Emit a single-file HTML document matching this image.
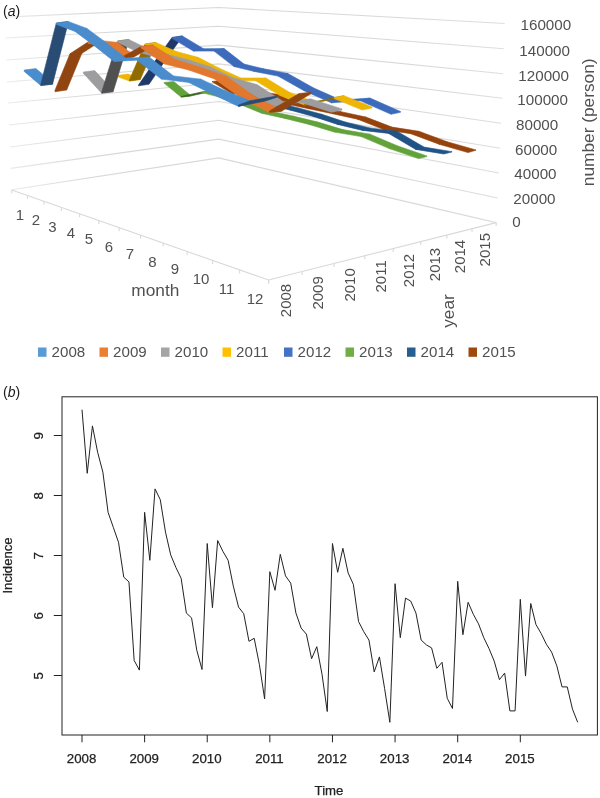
<!DOCTYPE html>
<html lang="en">
<head>
<meta charset="utf-8">
<title>Figure: monthly reported cases (a) and incidence time series (b)</title>
<style>
html,body{margin:0;padding:0;background:#ffffff;}
body{width:600px;height:798px;overflow:hidden;}
svg{display:block;font-family:"Liberation Sans", Arial, sans-serif;}
</style>
</head>
<body>
<svg width="600" height="798" viewBox="0 0 600 798">
<rect x="0" y="0" width="600" height="798" fill="#ffffff"/>
<g id="chart-a">
<defs><linearGradient id="fadeL" gradientUnits="userSpaceOnUse" x1="0" y1="0" x2="600" y2="0"><stop offset="0" stop-color="#ececec"/><stop offset="0.16" stop-color="#d8d8d8"/><stop offset="0.7" stop-color="#d8d8d8"/><stop offset="0.85" stop-color="#dedede"/></linearGradient></defs>
<polyline fill="none" stroke="url(#fadeL)" stroke-width="1.1" points="4.5,17.1 218.75,7.5 504.7,23.5"/>
<polyline fill="none" stroke="url(#fadeL)" stroke-width="1.1" points="5.5,38 218.75,26.3 503.8,48.7"/>
<polyline fill="none" stroke="url(#fadeL)" stroke-width="1.1" points="6.3,60 218.75,45.1 503.2,73.7"/>
<polyline fill="none" stroke="url(#fadeL)" stroke-width="1.1" points="7,82 218.75,63.9 502.3,98.3"/>
<polyline fill="none" stroke="url(#fadeL)" stroke-width="1.1" points="8.3,103 218.75,82.7 501,123.3"/>
<polyline fill="none" stroke="url(#fadeL)" stroke-width="1.1" points="9,125 218.75,101.5 500.2,148.3"/>
<polyline fill="none" stroke="url(#fadeL)" stroke-width="1.1" points="10,147 218.75,120.3 499,173"/>
<polyline fill="none" stroke="url(#fadeL)" stroke-width="1.1" points="10.8,168.4 218.75,139.1 497.7,198"/>
<polyline fill="none" stroke="url(#fadeL)" stroke-width="1.1" points="11.8,189.7 218.75,157.9 496.2,222.6"/>
<polyline fill="none" stroke="#d9d9d9" stroke-width="1.1" points="11.75,190 268.5,280 496.2,222.6"/>
<line x1="11.75" y1="190" x2="11.75" y2="193.5" stroke="#d9d9d9" stroke-width="1.1" />
<line x1="27.5" y1="195.52" x2="27.5" y2="199.02" stroke="#d9d9d9" stroke-width="1.1" />
<line x1="44.03" y1="201.31" x2="44.03" y2="204.81" stroke="#d9d9d9" stroke-width="1.1" />
<line x1="61.38" y1="207.4" x2="61.38" y2="210.9" stroke="#d9d9d9" stroke-width="1.1" />
<line x1="79.64" y1="213.8" x2="79.64" y2="217.3" stroke="#d9d9d9" stroke-width="1.1" />
<line x1="98.86" y1="220.54" x2="98.86" y2="224.04" stroke="#d9d9d9" stroke-width="1.1" />
<line x1="119.13" y1="227.64" x2="119.13" y2="231.14" stroke="#d9d9d9" stroke-width="1.1" />
<line x1="140.54" y1="235.14" x2="140.54" y2="238.64" stroke="#d9d9d9" stroke-width="1.1" />
<line x1="163.18" y1="243.08" x2="163.18" y2="246.58" stroke="#d9d9d9" stroke-width="1.1" />
<line x1="187.17" y1="251.49" x2="187.17" y2="254.99" stroke="#d9d9d9" stroke-width="1.1" />
<line x1="212.62" y1="260.41" x2="212.62" y2="263.91" stroke="#d9d9d9" stroke-width="1.1" />
<line x1="239.68" y1="269.9" x2="239.68" y2="273.4" stroke="#d9d9d9" stroke-width="1.1" />
<line x1="268.5" y1="280" x2="268.5" y2="283.5" stroke="#d9d9d9" stroke-width="1.1" />
<line x1="268.8" y1="279.92" x2="268.8" y2="283.42" stroke="#d9d9d9" stroke-width="1.1" />
<line x1="302" y1="271.56" x2="302" y2="275.06" stroke="#d9d9d9" stroke-width="1.1" />
<line x1="334" y1="263.49" x2="334" y2="266.99" stroke="#d9d9d9" stroke-width="1.1" />
<line x1="364.8" y1="255.72" x2="364.8" y2="259.22" stroke="#d9d9d9" stroke-width="1.1" />
<line x1="393.2" y1="248.56" x2="393.2" y2="252.06" stroke="#d9d9d9" stroke-width="1.1" />
<line x1="420.8" y1="241.61" x2="420.8" y2="245.11" stroke="#d9d9d9" stroke-width="1.1" />
<line x1="446.8" y1="235.05" x2="446.8" y2="238.55" stroke="#d9d9d9" stroke-width="1.1" />
<line x1="472" y1="228.7" x2="472" y2="232.2" stroke="#d9d9d9" stroke-width="1.1" />
<line x1="496.2" y1="222.6" x2="496.2" y2="226.1" stroke="#d9d9d9" stroke-width="1.1" />
<g stroke-linejoin="round">
<polygon points="212,81.5 221,80.42 240.91,92.29 240.91,92.49 232,93.7 212,81.7" fill="#96420b" stroke="#96420b" stroke-width="0.6"/>
<polygon points="232,93.5 240.91,92.29 260.82,91.65 260.82,91.85 252,93.2 232,93.7" fill="#96420b" stroke="#96420b" stroke-width="0.6"/>
<polygon points="252,93 260.82,91.65 278.73,94.52 278.73,94.72 270,96.2 252,93.2" fill="#96420b" stroke="#96420b" stroke-width="0.6"/>
<polygon points="270,96 278.73,94.52 294.14,101.9 294.14,102.1 285.5,103.7 270,96.2" fill="#96420b" stroke="#96420b" stroke-width="0.6"/>
<polygon points="285.5,103.5 294.14,101.9 317.05,106.78 317.05,106.98 308.5,108.7 285.5,103.7" fill="#96420b" stroke="#96420b" stroke-width="0.6"/>
<polygon points="308.5,108.5 317.05,106.78 340.95,111.66 340.95,111.86 332.5,113.7 308.5,108.7" fill="#96420b" stroke="#96420b" stroke-width="0.6"/>
<polygon points="332.5,113.5 340.95,111.66 365.86,117.04 365.86,117.24 357.5,119.2 332.5,113.7" fill="#96420b" stroke="#96420b" stroke-width="0.6"/>
<polygon points="357.5,119 365.86,117.04 391.97,127.12 391.97,127.32 383.7,129.4 357.5,119.2" fill="#96420b" stroke="#96420b" stroke-width="0.6"/>
<polygon points="383.7,129.2 391.97,127.12 418.98,131.31 418.98,131.51 410.8,133.7 383.7,129.4" fill="#96420b" stroke="#96420b" stroke-width="0.6"/>
<polygon points="410.8,133.5 418.98,131.31 447.09,141.71 447.09,141.91 439,144.2 410.8,133.7" fill="#96420b" stroke="#96420b" stroke-width="0.6"/>
<polygon points="439,144 447.09,141.71 476,150 476,150.2 468,152.6 439,144.2" fill="#96420b" stroke="#96420b" stroke-width="0.6"/>
<polygon points="190,66 199,64.65 216.93,70.59 216.93,70.99 208,72.4 190,66.4" fill="#205386" stroke="#205386" stroke-width="0.6"/>
<polygon points="208,72 216.93,70.59 235.85,80.53 235.85,80.93 227,82.4 208,72.4" fill="#205386" stroke="#205386" stroke-width="0.6"/>
<polygon points="227,82 235.85,80.53 255.78,94.47 255.78,94.87 247,96.4 227,82.4" fill="#205386" stroke="#205386" stroke-width="0.6"/>
<polygon points="247,96 255.78,94.47 276.71,102.41 276.71,102.81 268,104.4 247,96.4" fill="#205386" stroke="#205386" stroke-width="0.6"/>
<polygon points="268,104 276.71,102.41 299.14,108.15 299.14,108.55 290.5,110.2 268,104.4" fill="#205386" stroke="#205386" stroke-width="0.6"/>
<polygon points="290.5,109.8 299.14,108.15 321.86,114.3 321.86,114.7 313.3,116.4 290.5,110.2" fill="#205386" stroke="#205386" stroke-width="0.6"/>
<polygon points="313.3,116 321.86,114.3 345.99,122.24 345.99,122.64 337.5,124.4 313.3,116.4" fill="#205386" stroke="#205386" stroke-width="0.6"/>
<polygon points="337.5,124 345.99,122.24 370.92,128.19 370.92,128.59 362.5,130.4 337.5,124.4" fill="#205386" stroke="#205386" stroke-width="0.6"/>
<polygon points="362.5,130 370.92,128.19 396.95,131.13 396.95,131.53 388.6,133.4 362.5,130.4" fill="#205386" stroke="#205386" stroke-width="0.6"/>
<polygon points="388.6,133 396.95,131.13 423.97,147.08 423.97,147.48 415.7,149.4 388.6,133.4" fill="#205386" stroke="#205386" stroke-width="0.6"/>
<polygon points="415.7,149 423.97,147.08 452,151.63 452,152.03 443.8,154 415.7,149.4" fill="#205386" stroke="#205386" stroke-width="0.6"/>
<polygon points="164,82.5 173.8,81.52 190.68,95.41 190.68,96.01 181,97.1 164,83.1" fill="#62a23a" stroke="#62a23a" stroke-width="0.6"/>
<polygon points="181,96.5 201.5,92 211.06,90.8 211.06,91.4 190.68,96.01 181,97.1" fill="#3a6322" stroke="#3a6322" stroke-width="0.6"/>
<polygon points="201.5,92 211.06,90.8 228.95,95.19 228.95,95.79 219.5,97.1 201.5,92.6" fill="#62a23a" stroke="#62a23a" stroke-width="0.6"/>
<polygon points="219.5,96.5 228.95,95.19 248.93,102.19 248.93,102.79 239.6,104.2 219.5,97.1" fill="#62a23a" stroke="#62a23a" stroke-width="0.6"/>
<polygon points="239.6,103.6 248.93,102.19 270.91,111.19 270.91,111.79 261.7,113.3 239.6,104.2" fill="#62a23a" stroke="#62a23a" stroke-width="0.6"/>
<polygon points="261.7,112.7 270.91,111.19 293.89,116.2 293.89,116.8 284.8,118.4 261.7,113.3" fill="#62a23a" stroke="#62a23a" stroke-width="0.6"/>
<polygon points="284.8,117.8 293.89,116.2 317.97,122.1 317.97,122.7 309,124.4 284.8,118.4" fill="#62a23a" stroke="#62a23a" stroke-width="0.6"/>
<polygon points="309,123.8 317.97,122.1 342.85,129.61 342.85,130.21 334,132 309,124.4" fill="#62a23a" stroke="#62a23a" stroke-width="0.6"/>
<polygon points="334,131.4 342.85,129.61 369.94,134.13 369.94,134.73 361.2,136.6 334,132" fill="#62a23a" stroke="#62a23a" stroke-width="0.6"/>
<polygon points="361.2,136 369.94,134.13 397.92,146.04 397.92,146.64 389.3,148.6 361.2,136.6" fill="#62a23a" stroke="#62a23a" stroke-width="0.6"/>
<polygon points="389.3,148 397.92,146.04 427,155.96 427,156.56 418.5,158.6 389.3,148.6" fill="#62a23a" stroke="#62a23a" stroke-width="0.6"/>
<polygon points="138.5,85 155,61 165.41,59.48 165.41,60.28 149,84.33 138.5,85.8" fill="#1e3867" stroke="#1e3867" stroke-width="0.6"/>
<polygon points="155,61 172,37.5 182.32,35.92 182.32,36.72 165.41,60.28 155,61.8" fill="#1e3867" stroke="#1e3867" stroke-width="0.6"/>
<polygon points="172,37.5 182.32,35.92 203.53,48.67 203.53,49.47 193.3,51.1 172,38.3" fill="#3d6bbb" stroke="#3d6bbb" stroke-width="0.6"/>
<polygon points="193.3,50.3 203.53,48.67 224.14,48.62 224.14,49.42 214,51.1 193.3,51.1" fill="#3d6bbb" stroke="#3d6bbb" stroke-width="0.6"/>
<polygon points="214,50.3 224.14,48.62 244.05,64.07 244.05,64.87 234,66.6 214,51.1" fill="#3d6bbb" stroke="#3d6bbb" stroke-width="0.6"/>
<polygon points="234,65.8 244.05,64.07 263.45,68.73 263.45,69.53 253.5,71.3 234,66.6" fill="#3d6bbb" stroke="#3d6bbb" stroke-width="0.6"/>
<polygon points="253.5,70.5 263.45,68.73 287.86,73.48 287.86,74.28 278,76.1 253.5,71.3" fill="#3d6bbb" stroke="#3d6bbb" stroke-width="0.6"/>
<polygon points="278,75.3 287.86,73.48 313.77,88.03 313.77,88.83 304,90.7 278,76.1" fill="#3d6bbb" stroke="#3d6bbb" stroke-width="0.6"/>
<polygon points="304,89.9 313.77,88.03 340.98,100.09 340.98,100.89 331.3,102.8 304,90.7" fill="#3d6bbb" stroke="#3d6bbb" stroke-width="0.6"/>
<polygon points="331.3,102 340.98,100.09 369.99,98.05 369.99,98.85 360.4,100.8 331.3,102.8" fill="#3d6bbb" stroke="#3d6bbb" stroke-width="0.6"/>
<polygon points="360.4,100 369.99,98.05 400.5,111.5 400.5,112.3 391,114.3 360.4,100.8" fill="#3d6bbb" stroke="#3d6bbb" stroke-width="0.6"/>
<polygon points="117,75.5 128,74.07 140.29,78.51 140.29,79.51 129.4,81 117,76.5" fill="#efb505" stroke="#efb505" stroke-width="0.6"/>
<polygon points="129.4,80 145,44 155.78,42.46 155.78,43.46 140.29,79.51 129.4,81" fill="#8f6b00" stroke="#8f6b00" stroke-width="0.6"/>
<polygon points="145,44 155.78,42.46 176.47,51.61 176.47,52.61 165.8,54.2 145,45" fill="#efb505" stroke="#efb505" stroke-width="0.6"/>
<polygon points="165.8,53.2 176.47,51.61 198.06,57.36 198.06,58.36 187.5,60 165.8,54.2" fill="#efb505" stroke="#efb505" stroke-width="0.6"/>
<polygon points="187.5,59 198.06,57.36 218.75,67.91 218.75,68.91 208.3,70.6 187.5,60" fill="#efb505" stroke="#efb505" stroke-width="0.6"/>
<polygon points="208.3,69.6 218.75,67.91 240.85,77.96 240.85,78.96 230.5,80.7 208.3,70.6" fill="#efb505" stroke="#efb505" stroke-width="0.6"/>
<polygon points="230.5,79.7 240.85,77.96 265.94,78.01 265.94,79.01 255.7,80.8 230.5,80.7" fill="#efb505" stroke="#efb505" stroke-width="0.6"/>
<polygon points="255.7,79.8 265.94,78.01 290.13,92.67 290.13,93.67 280,95.5 255.7,80.8" fill="#efb505" stroke="#efb505" stroke-width="0.6"/>
<polygon points="280,94.5 290.13,92.67 314.52,102.12 314.52,103.12 304.5,105 280,95.5" fill="#efb505" stroke="#efb505" stroke-width="0.6"/>
<polygon points="304.5,104 334.1,97.6 344.01,95.68 344.01,96.68 314.52,103.12 304.5,105" fill="#8f6b00" stroke="#8f6b00" stroke-width="0.6"/>
<polygon points="334.1,97.6 344.01,95.68 372,107.04 372,108.04 362.2,110 334.1,98.6" fill="#efb505" stroke="#efb505" stroke-width="0.6"/>
<polygon points="83.3,72 94.8,70.62 113.11,90.55 113.11,91.75 101.7,93.2 83.3,73.2" fill="#9d9da0" stroke="#9d9da0" stroke-width="0.6"/>
<polygon points="101.7,92 117.5,41 128.82,39.48 128.82,40.68 113.11,91.75 101.7,93.2" fill="#505050" stroke="#505050" stroke-width="0.6"/>
<polygon points="117.5,41 128.82,39.48 148.23,48.91 148.23,50.11 137,51.7 117.5,42.2" fill="#9d9da0" stroke="#9d9da0" stroke-width="0.6"/>
<polygon points="137,50.5 148.23,48.91 168.14,54.54 168.14,55.74 157,57.4 137,51.7" fill="#9d9da0" stroke="#9d9da0" stroke-width="0.6"/>
<polygon points="157,56.2 168.14,54.54 188.05,59.77 188.05,60.97 177,62.7 157,57.4" fill="#9d9da0" stroke="#9d9da0" stroke-width="0.6"/>
<polygon points="177,61.5 188.05,59.77 209.95,66.71 209.95,67.91 199,69.7 177,62.7" fill="#9d9da0" stroke="#9d9da0" stroke-width="0.6"/>
<polygon points="199,68.5 209.95,66.71 232.86,77.64 232.86,78.84 222,80.7 199,69.7" fill="#9d9da0" stroke="#9d9da0" stroke-width="0.6"/>
<polygon points="222,79.5 232.86,77.64 257,84.6 257,85.8 246.3,91.2 222,80.7" fill="#9d9da0" stroke="#9d9da0" stroke-width="0.6"/>
<polygon points="246.3,90 257,84.6 283.1,101.5 283.1,102.7 272.5,106.7 246.3,91.2" fill="#9d9da0" stroke="#9d9da0" stroke-width="0.6"/>
<polygon points="272.5,105.5 283.1,101.5 311.09,98.96 311.09,100.16 300.5,102.2 272.5,106.7" fill="#9d9da0" stroke="#9d9da0" stroke-width="0.6"/>
<polygon points="300.5,101 311.09,98.96 342,108.9 342,110.1 331.5,112.2 300.5,102.2" fill="#9d9da0" stroke="#9d9da0" stroke-width="0.6"/>
<polygon points="55,90.3 70,53.7 81.73,52.1 81.73,53.5 66.7,90.06 55,91.7" fill="#914511" stroke="#914511" stroke-width="0.6"/>
<polygon points="70,53.7 88,42 99.75,40.44 99.75,41.84 81.73,53.5 70,55.1" fill="#914511" stroke="#914511" stroke-width="0.6"/>
<polygon points="88,42 99.75,40.44 117.78,42.48 117.78,43.88 106,45.4 88,43.4" fill="#e2782e" stroke="#e2782e" stroke-width="0.6"/>
<polygon points="106,44 117.78,42.48 133.81,55.52 133.81,56.92 122,58.4 106,45.4" fill="#e2782e" stroke="#e2782e" stroke-width="0.6"/>
<polygon points="122,57 141,46.5 152.84,45.06 152.84,46.46 133.81,56.92 122,58.4" fill="#914511" stroke="#914511" stroke-width="0.6"/>
<polygon points="141,46.5 152.84,45.06 175.5,59.5 175.5,60.9 164.5,63.9 141,47.9" fill="#e2782e" stroke="#e2782e" stroke-width="0.6"/>
<polygon points="164.5,62.5 175.5,59.5 200.39,67.14 200.39,68.54 188.5,69.9 164.5,63.9" fill="#e2782e" stroke="#e2782e" stroke-width="0.6"/>
<polygon points="188.5,68.5 200.39,67.14 226.42,76.18 226.42,77.58 214.5,78.9 188.5,69.9" fill="#e2782e" stroke="#e2782e" stroke-width="0.6"/>
<polygon points="214.5,77.5 226.42,76.18 256.45,97.72 256.45,99.12 244.5,100.4 214.5,78.9" fill="#e2782e" stroke="#e2782e" stroke-width="0.6"/>
<polygon points="244.5,99 256.45,97.72 281.47,109.76 281.47,111.16 269.5,112.4 244.5,100.4" fill="#e2782e" stroke="#e2782e" stroke-width="0.6"/>
<polygon points="269.5,111 299,93.5 311,92.3 311,93.7 281.47,111.16 269.5,112.4" fill="#914511" stroke="#914511" stroke-width="0.6"/>
<polygon points="24.2,70 35.9,68.6 52.57,82.74 52.57,84.14 40.8,85.6 24.2,71.4" fill="#4a8ccc" stroke="#4a8ccc" stroke-width="0.6"/>
<polygon points="40.8,84.2 56.3,23 68.15,21.49 68.15,22.89 52.57,84.14 40.8,85.6" fill="#294c74" stroke="#294c74" stroke-width="0.6"/>
<polygon points="56.3,23 68.15,21.49 86.92,28.44 86.92,29.84 75,31.4 56.3,24.4" fill="#4a8ccc" stroke="#4a8ccc" stroke-width="0.6"/>
<polygon points="75,30 86.92,28.44 106.49,42.89 106.49,44.29 94.5,45.9 75,31.4" fill="#4a8ccc" stroke="#4a8ccc" stroke-width="0.6"/>
<polygon points="94.5,44.5 106.49,42.89 126.06,58.33 126.06,59.73 114,61.4 94.5,45.9" fill="#4a8ccc" stroke="#4a8ccc" stroke-width="0.6"/>
<polygon points="114,60 126.06,58.33 149.14,57.08 149.14,58.48 137,60.2 114,61.4" fill="#4a8ccc" stroke="#4a8ccc" stroke-width="0.6"/>
<polygon points="137,58.8 149.14,57.08 173.51,75.92 173.51,77.32 161.3,79.1 137,60.2" fill="#4a8ccc" stroke="#4a8ccc" stroke-width="0.6"/>
<polygon points="161.3,77.7 173.51,75.92 200.98,79.17 200.98,80.57 188.7,82.4 161.3,79.1" fill="#4a8ccc" stroke="#4a8ccc" stroke-width="0.6"/>
<polygon points="188.7,81 200.98,79.17 224.5,90.3 224.5,91.7 213,94.4 188.7,82.4" fill="#4a8ccc" stroke="#4a8ccc" stroke-width="0.6"/>
<polygon points="213,93 224.5,90.3 250,100.8 250,102.2 238.5,106.4 213,94.4" fill="#4a8ccc" stroke="#4a8ccc" stroke-width="0.6"/>
<polygon points="238.5,105 250,100.8 276.5,96 276.5,97.4 264.5,101.2 238.5,106.4" fill="#294c74" stroke="#294c74" stroke-width="0.6"/>
</g>
<text x="520.5" y="29.5" font-size="15.2" text-anchor="start" fill="#505050" >160000</text>
<text x="519.3" y="55.7" font-size="15.2" text-anchor="start" fill="#505050" >140000</text>
<text x="518.3" y="81" font-size="15.2" text-anchor="start" fill="#505050" >120000</text>
<text x="517.3" y="105.3" font-size="15.2" text-anchor="start" fill="#505050" >100000</text>
<text x="516" y="130" font-size="15.2" text-anchor="start" fill="#505050" >80000</text>
<text x="515" y="154.5" font-size="15.2" text-anchor="start" fill="#505050" >60000</text>
<text x="514.3" y="179.3" font-size="15.2" text-anchor="start" fill="#505050" >40000</text>
<text x="513.3" y="204" font-size="15.2" text-anchor="start" fill="#505050" >20000</text>
<text x="512.3" y="227.3" font-size="15.2" text-anchor="start" fill="#505050" >0</text>
<text x="594.3" y="122.3" font-size="17.3" text-anchor="middle" fill="#505050" transform="rotate(-90 594.3 122.3)" >number (person)</text>
<text x="20" y="220.4" font-size="15" text-anchor="middle" fill="#505050" >1</text>
<text x="36" y="225.4" font-size="15" text-anchor="middle" fill="#505050" >2</text>
<text x="52.5" y="231.9" font-size="15" text-anchor="middle" fill="#505050" >3</text>
<text x="71" y="237.9" font-size="15" text-anchor="middle" fill="#505050" >4</text>
<text x="89" y="243.9" font-size="15" text-anchor="middle" fill="#505050" >5</text>
<text x="109" y="251.9" font-size="15" text-anchor="middle" fill="#505050" >6</text>
<text x="130" y="258.9" font-size="15" text-anchor="middle" fill="#505050" >7</text>
<text x="152.5" y="266.9" font-size="15" text-anchor="middle" fill="#505050" >8</text>
<text x="175" y="274.4" font-size="15" text-anchor="middle" fill="#505050" >9</text>
<text x="201" y="284.4" font-size="15" text-anchor="middle" fill="#505050" >10</text>
<text x="226.5" y="293.9" font-size="15" text-anchor="middle" fill="#505050" >11</text>
<text x="255" y="303.9" font-size="15" text-anchor="middle" fill="#505050" >12</text>
<text x="155.3" y="296" font-size="17.3" text-anchor="middle" fill="#505050" >month</text>
<text x="290.6" y="283.8" font-size="15" text-anchor="end" fill="#505050" transform="rotate(-90 290.6 283.8)" >2008</text>
<text x="323" y="276.2" font-size="15" text-anchor="end" fill="#505050" transform="rotate(-90 323 276.2)" >2009</text>
<text x="355" y="268.2" font-size="15" text-anchor="end" fill="#505050" transform="rotate(-90 355 268.2)" >2010</text>
<text x="385.8" y="260.2" font-size="15" text-anchor="end" fill="#505050" transform="rotate(-90 385.8 260.2)" >2011</text>
<text x="413.8" y="253.8" font-size="15" text-anchor="end" fill="#505050" transform="rotate(-90 413.8 253.8)" >2012</text>
<text x="440.2" y="247.8" font-size="15" text-anchor="end" fill="#505050" transform="rotate(-90 440.2 247.8)" >2013</text>
<text x="465.4" y="239.8" font-size="15" text-anchor="end" fill="#505050" transform="rotate(-90 465.4 239.8)" >2014</text>
<text x="489.8" y="233" font-size="15" text-anchor="end" fill="#505050" transform="rotate(-90 489.8 233)" >2015</text>
<text x="453.8" y="311" font-size="17.3" text-anchor="middle" fill="#505050" transform="rotate(-90 453.8 311)" >year</text>
<rect x="38" y="347.5" width="8.5" height="9.3" fill="#5b9bd5"/>
<text x="51.6" y="357.2" font-size="15.1" text-anchor="start" fill="#505050" >2008</text>
<rect x="99.5" y="347.5" width="8.5" height="9.3" fill="#ed7d31"/>
<text x="113.1" y="357.2" font-size="15.1" text-anchor="start" fill="#505050" >2009</text>
<rect x="161" y="347.5" width="8.5" height="9.3" fill="#a5a5a5"/>
<text x="174.6" y="357.2" font-size="15.1" text-anchor="start" fill="#505050" >2010</text>
<rect x="222.5" y="347.5" width="8.5" height="9.3" fill="#ffc000"/>
<text x="236.1" y="357.2" font-size="15.1" text-anchor="start" fill="#505050" >2011</text>
<rect x="284" y="347.5" width="8.5" height="9.3" fill="#4472c4"/>
<text x="297.6" y="357.2" font-size="15.1" text-anchor="start" fill="#505050" >2012</text>
<rect x="345.5" y="347.5" width="8.5" height="9.3" fill="#70ad47"/>
<text x="359.1" y="357.2" font-size="15.1" text-anchor="start" fill="#505050" >2013</text>
<rect x="407" y="347.5" width="8.5" height="9.3" fill="#255e91"/>
<text x="420.6" y="357.2" font-size="15.1" text-anchor="start" fill="#505050" >2014</text>
<rect x="468.5" y="347.5" width="8.5" height="9.3" fill="#9e480e"/>
<text x="482.1" y="357.2" font-size="15.1" text-anchor="start" fill="#505050" >2015</text>
<text x="3" y="16.2" font-size="14" text-anchor="start" fill="#1a1a1a" >(<tspan font-style="italic">a</tspan>)</text>
</g>
<g id="chart-b">
<rect x="62" y="396.8" width="535.4" height="338.2" fill="none" stroke="#222222" stroke-width="1"/>
<line x1="82" y1="735" x2="82" y2="742.3" stroke="#222222" stroke-width="1" />
<text x="81.6" y="763.2" font-size="13.3" text-anchor="middle" fill="#222222" stroke="#222222" stroke-width="0.25">2008</text>
<line x1="144.61" y1="735" x2="144.61" y2="742.3" stroke="#222222" stroke-width="1" />
<text x="144.21" y="763.2" font-size="13.3" text-anchor="middle" fill="#222222" stroke="#222222" stroke-width="0.25">2009</text>
<line x1="207.23" y1="735" x2="207.23" y2="742.3" stroke="#222222" stroke-width="1" />
<text x="206.83" y="763.2" font-size="13.3" text-anchor="middle" fill="#222222" stroke="#222222" stroke-width="0.25">2010</text>
<line x1="269.84" y1="735" x2="269.84" y2="742.3" stroke="#222222" stroke-width="1" />
<text x="269.44" y="763.2" font-size="13.3" text-anchor="middle" fill="#222222" stroke="#222222" stroke-width="0.25">2011</text>
<line x1="332.46" y1="735" x2="332.46" y2="742.3" stroke="#222222" stroke-width="1" />
<text x="332.06" y="763.2" font-size="13.3" text-anchor="middle" fill="#222222" stroke="#222222" stroke-width="0.25">2012</text>
<line x1="395.07" y1="735" x2="395.07" y2="742.3" stroke="#222222" stroke-width="1" />
<text x="394.67" y="763.2" font-size="13.3" text-anchor="middle" fill="#222222" stroke="#222222" stroke-width="0.25">2013</text>
<line x1="457.69" y1="735" x2="457.69" y2="742.3" stroke="#222222" stroke-width="1" />
<text x="457.29" y="763.2" font-size="13.3" text-anchor="middle" fill="#222222" stroke="#222222" stroke-width="0.25">2014</text>
<line x1="520.3" y1="735" x2="520.3" y2="742.3" stroke="#222222" stroke-width="1" />
<text x="519.9" y="763.2" font-size="13.3" text-anchor="middle" fill="#222222" stroke="#222222" stroke-width="0.25">2015</text>
<line x1="53.8" y1="675.5" x2="62" y2="675.5" stroke="#222222" stroke-width="1" />
<text x="42.6" y="675.9" font-size="13.3" text-anchor="middle" fill="#222222" transform="rotate(-90 42.6 675.9)" stroke="#222222" stroke-width="0.25">5</text>
<line x1="53.8" y1="615.5" x2="62" y2="615.5" stroke="#222222" stroke-width="1" />
<text x="42.6" y="615.9" font-size="13.3" text-anchor="middle" fill="#222222" transform="rotate(-90 42.6 615.9)" stroke="#222222" stroke-width="0.25">6</text>
<line x1="53.8" y1="555.5" x2="62" y2="555.5" stroke="#222222" stroke-width="1" />
<text x="42.6" y="555.9" font-size="13.3" text-anchor="middle" fill="#222222" transform="rotate(-90 42.6 555.9)" stroke="#222222" stroke-width="0.25">7</text>
<line x1="53.8" y1="495.5" x2="62" y2="495.5" stroke="#222222" stroke-width="1" />
<text x="42.6" y="495.9" font-size="13.3" text-anchor="middle" fill="#222222" transform="rotate(-90 42.6 495.9)" stroke="#222222" stroke-width="0.25">8</text>
<line x1="53.8" y1="435.5" x2="62" y2="435.5" stroke="#222222" stroke-width="1" />
<text x="42.6" y="435.9" font-size="13.3" text-anchor="middle" fill="#222222" transform="rotate(-90 42.6 435.9)" stroke="#222222" stroke-width="0.25">9</text>
<polyline fill="none" stroke="#222222" stroke-width="1" stroke-linejoin="round" points="82,409.7 87.22,473.3 92.44,425.9 97.65,452.3 102.87,472.1 108.09,512.3 113.31,527.3 118.53,542.3 123.74,577.1 128.96,581.9 134.18,660.5 139.4,670.1 144.61,512.3 149.83,560.3 155.05,488.9 160.27,499.7 165.49,532.1 170.7,554.9 175.92,567.5 181.14,578.3 186.36,613.1 191.57,617.9 196.79,650.3 202.01,669.5 207.23,543.5 212.45,607.7 217.66,540.5 222.88,551.3 228.1,560.3 233.32,586.1 238.54,607.1 243.75,613.7 248.97,641.3 254.19,638.3 259.41,664.7 264.62,698.9 269.84,571.7 275.06,590.3 280.28,554.3 285.5,575.9 290.71,583.1 295.93,613.1 301.15,628.1 306.37,634.1 311.59,658.7 316.8,646.7 322.02,674.3 327.24,711.5 332.46,543.5 337.67,572.3 342.89,548.3 348.11,572.9 353.33,584.3 358.55,621.5 363.76,631.7 368.98,640.1 374.2,671.9 379.42,656.9 384.64,688.7 389.85,722.3 395.07,583.7 400.29,637.7 405.51,598.1 410.72,601.1 415.94,613.1 421.16,640.1 426.38,644.9 431.6,647.9 436.81,668.3 442.03,662.3 447.25,698.3 452.47,708.5 457.69,581.3 462.9,634.7 468.12,602.3 473.34,614.3 478.56,623.9 483.77,637.7 488.99,648.5 494.21,661.1 499.43,679.7 504.65,673.1 509.86,710.9 515.08,710.9 520.3,599.3 525.52,676.1 530.74,603.5 535.95,624.5 541.17,633.5 546.39,644.3 551.61,652.1 556.83,665.9 562.04,686.9 567.26,686.9 572.48,709.1 577.7,722.3"/>
<text x="12.3" y="565.5" font-size="13.1" text-anchor="middle" fill="#222222" transform="rotate(-90 12.3 565.5)" stroke="#222222" stroke-width="0.25">Incidence</text>
<text x="329" y="794.6" font-size="13.2" text-anchor="middle" fill="#222222" stroke="#222222" stroke-width="0.25">Time</text>
<text x="3" y="397" font-size="14" text-anchor="start" fill="#1a1a1a" >(<tspan font-style="italic">b</tspan>)</text>
</g>
</svg>
</body>
</html>
